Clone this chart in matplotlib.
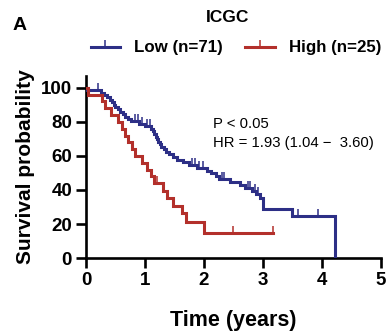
import numpy as np
import matplotlib
matplotlib.use("Agg")
import matplotlib.pyplot as plt
from matplotlib.path import Path
from matplotlib.lines import Line2D

plt.rcParams['font.family'] = ['Liberation Sans', 'DejaVu Sans']

# Kaplan-Meier step data (time in years, survival in %)
low_times = [0.02, 0.25, 0.30, 0.36, 0.40, 0.44, 0.47, 0.50, 0.54, 0.58, 0.62, 0.67,
             0.72, 0.77, 0.90, 1.00, 1.10, 1.13, 1.16, 1.18, 1.20, 1.22, 1.25, 1.28,
             1.32, 1.35, 1.40, 1.47, 1.55, 1.65, 1.74, 1.88, 2.05, 2.12, 2.20, 2.26,
             2.45, 2.62, 2.70, 2.82, 2.88, 2.95, 3.00, 3.50, 4.22]
low_surv = [98.6, 97.2, 95.8, 94.4, 93.0, 91.5, 90.1, 88.7, 87.3, 85.9, 84.5, 83.1,
            81.7, 80.3, 78.9, 77.4, 75.9, 74.4, 72.9, 71.4, 69.9, 68.4, 66.9, 65.4,
            63.9, 62.4, 60.9, 59.4, 57.9, 56.3, 54.7, 53.1, 51.4, 49.7, 48.0, 46.5,
            44.8, 43.0, 41.2, 39.3, 37.4, 35.4, 28.6, 24.8, 0.0]
low_censor = [0.20, 0.83, 0.88, 0.95, 1.03, 1.08, 1.79, 1.85, 1.92, 1.98,
              2.30, 2.34, 2.75, 2.78, 2.86, 2.92, 3.60, 3.93]

high_times = [0.03, 0.28, 0.32, 0.43, 0.55, 0.61, 0.67, 0.72, 0.78, 0.83, 0.95,
              1.03, 1.10, 1.16, 1.30, 1.37, 1.47, 1.62, 1.70, 2.00]
high_surv = [96.0, 92.0, 88.0, 84.0, 80.0, 76.0, 72.0, 68.0, 64.0, 60.0, 56.0,
             52.0, 48.0, 44.0, 39.6, 35.2, 30.8, 26.4, 21.0, 15.0]
high_censor = [1.20, 2.50, 3.17]
high_end = 3.17

low_label = "Low (n=71)"
high_label = "High (n=25)"
low_color = "#2d2f86"
high_color = "#b3302b"

# upward censor tick
tick_marker = Path([(0, 0), (0, 1)], [Path.MOVETO, Path.LINETO])


def km_curve(times, surv, end=None):
    xs = [0.0] + list(times)
    ys = [100.0] + list(surv)
    if end is not None and end > xs[-1]:
        xs.append(end)
        ys.append(ys[-1])
    return np.array(xs), np.array(ys)


def surv_at(times, surv, t):
    s = 100.0
    for ti, si in zip(times, surv):
        if ti <= t:
            s = si
    return s


fig = plt.figure(figsize=(3.89, 3.33), dpi=100)
ax = fig.add_axes([0.221, 0.225, 0.758, 0.547])

for times, surv, cens, color, end in [
        (low_times, low_surv, low_censor, low_color, None),
        (high_times, high_surv, high_censor, high_color, high_end)]:
    xs, ys = km_curve(times, surv, end)
    ax.step(xs, ys, where='post', color=color, lw=2.2, solid_joinstyle='miter', zorder=3)
    cy = [surv_at(times, surv, c) for c in cens]
    ax.plot(cens, cy, ls='none', marker=tick_marker, markersize=10,
            markeredgewidth=1.1, color=color, zorder=3)

ax.set_xlim(0, 5)
ax.set_ylim(0, 107)
ax.set_xticks([0, 1, 2, 3, 4, 5])
ax.set_yticks([0, 20, 40, 60, 80, 100])
for s in ['top', 'right']:
    ax.spines[s].set_visible(False)
for s in ['left', 'bottom']:
    ax.spines[s].set_linewidth(1.9)
ax.tick_params(width=1.9, length=7, labelsize=13.5, pad=3)
for lab in ax.get_xticklabels() + ax.get_yticklabels():
    lab.set_fontweight('bold')

ax.set_xlabel("Time (years)", fontsize=15.5, fontweight='bold', labelpad=15)
ax.set_ylabel("Survival probability", fontsize=15, fontweight='bold', labelpad=4)

ax.text(2.15, 76.3, "P < 0.05", fontsize=10.7)
ax.text(2.15, 65.3, "HR = 1.93 (1.04 \u2212  3.60)", fontsize=10.7)

fig.text(0.586, 0.946, "ICGC", fontsize=12.5, fontweight='bold', ha='center', va='center')
fig.text(0.033, 0.922, "A", fontsize=14, fontweight='bold', ha='left', va='center')

handles = [Line2D([0], [0], color=low_color, lw=2.2, marker=tick_marker, markersize=10,
                  markeredgewidth=1.1),
           Line2D([0], [0], color=high_color, lw=2.2, marker=tick_marker, markersize=10,
                  markeredgewidth=1.1)]
leg = fig.legend(handles, [low_label, high_label], loc='center', ncol=2,
                 bbox_to_anchor=(0.606, 0.856), frameon=False, handlelength=1.75,
                 columnspacing=1.35, handletextpad=0.8, borderpad=0.0,
                 prop={'size': 12.2, 'weight': 'bold'})

fig.savefig("out.png", dpi=100)
